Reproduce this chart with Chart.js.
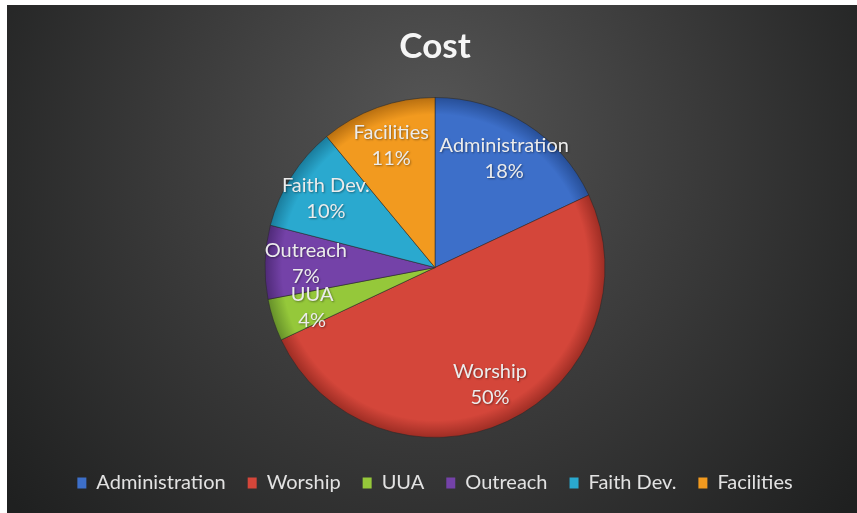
<!DOCTYPE html>
<html>
<head>
<meta charset="utf-8">
<script src="https://cdn.jsdelivr.net/npm/chart.js@4"></script>
<style>
  html, body { margin: 0; padding: 0; background: #ffffff; }
  #wrap { position: absolute; left: 7px; top: 5px; width: 850px; height: 508px; }
</style>
</head>
<body>
<div id="wrap"><canvas id="c" width="850" height="508"></canvas></div>
<script>
const categories = ['Administration', 'Worship', 'UUA', 'Outreach', 'Faith Dev.', 'Facilities'];
const values = [18, 50, 4, 7, 10, 11];
const sliceColors = ['#3d6fc9', '#d4463a', '#95c83a', '#7442a8', '#2aa9cf', '#f29a1f'];
const edgeColors = ['#274f98', '#9e2d24', '#66902a', '#4f2a78', '#1a7c9c', '#b86f10'];
const titleText = 'Cost';

const bgPlugin = {
  id: 'bg',
  beforeDraw(chart) {
    const ctx = chart.ctx, w = chart.width, h = chart.height;
    ctx.save();
    const g = ctx.createRadialGradient(w * 0.5, h * 0.22, 10, w * 0.5, h * 0.35, w * 0.62);
    g.addColorStop(0, '#545454');
    g.addColorStop(0.5, '#3a3a3a');
    g.addColorStop(1, '#1f2020');
    ctx.fillStyle = g;
    ctx.fillRect(0, 0, w, h);
    ctx.restore();
  }
};

const labelPlugin = {
  id: 'sliceLabels',
  afterDatasetsDraw(chart) {
    const ctx = chart.ctx;
    const meta = chart.getDatasetMeta(0);
    ctx.save();
    ctx.font = '20px Lato, "Open Sans", sans-serif';
    ctx.textAlign = 'center';
    ctx.textBaseline = 'middle';
    ctx.fillStyle = '#ececec';
    ctx.shadowColor = 'rgba(0,0,0,0.4)';
    ctx.shadowBlur = 2;
    ctx.shadowOffsetX = 1;
    ctx.shadowOffsetY = 1;
    meta.data.forEach((arc, i) => {
      const p = arc.getProps(['x', 'y', 'startAngle', 'endAngle', 'outerRadius'], true);
      const mid = (p.startAngle + p.endAngle) / 2;
      const d = p.outerRadius * 0.76;
      const cx = p.x + Math.cos(mid) * d;
      const cy = p.y + Math.sin(mid) * d;
      ctx.fillText(categories[i], cx, cy - 13);
      ctx.fillText(values[i] + '%', cx, cy + 13);
    });
    ctx.restore();
  }
};

function sliceFill(context) {
  const i = context.dataIndex;
  const chart = context.chart;
  const area = chart.chartArea;
  if (!area) return sliceColors[i];
  const cx = (area.left + area.right) / 2;
  const cy = (area.top + area.bottom) / 2;
  const r = 170;
  const g = chart.ctx.createRadialGradient(cx, cy, 0, cx, cy, r);
  g.addColorStop(0, sliceColors[i]);
  g.addColorStop(0.9, sliceColors[i]);
  g.addColorStop(1, edgeColors[i]);
  return g;
}

new Chart(document.getElementById('c'), {
  type: 'pie',
  data: {
    labels: categories,
    datasets: [{
      data: values,
      backgroundColor: sliceFill,
      borderColor: 'rgba(40,40,40,0.55)',
      borderWidth: 1,
      radius: 170
    }]
  },
  options: {
    responsive: false,
    animation: false,
    layout: { padding: { left: 6, right: 0, top: 0, bottom: 10 } },
    plugins: {
      tooltip: { enabled: false },
      title: {
        display: true,
        text: titleText,
        color: '#f5f5f5',
        font: { family: 'Lato, "Open Sans", sans-serif', size: 35, weight: 'bold' },
        padding: { top: 21, bottom: 16 }
      },
      legend: {
        position: 'bottom',
        labels: {
          color: '#e2e2e2',
          font: { family: 'Lato, "Open Sans", sans-serif', size: 20 },
          boxWidth: 9,
          boxHeight: 11,
          padding: 22,
          generateLabels(chart) {
            return categories.map((c, i) => ({
              text: c,
              fillStyle: sliceColors[i],
              strokeStyle: sliceColors[i],
              lineWidth: 0,
              fontColor: '#e2e2e2',
              hidden: false,
              index: i
            }));
          }
        }
      }
    }
  },
  plugins: [bgPlugin, labelPlugin]
});
</script>
</body>
</html>
